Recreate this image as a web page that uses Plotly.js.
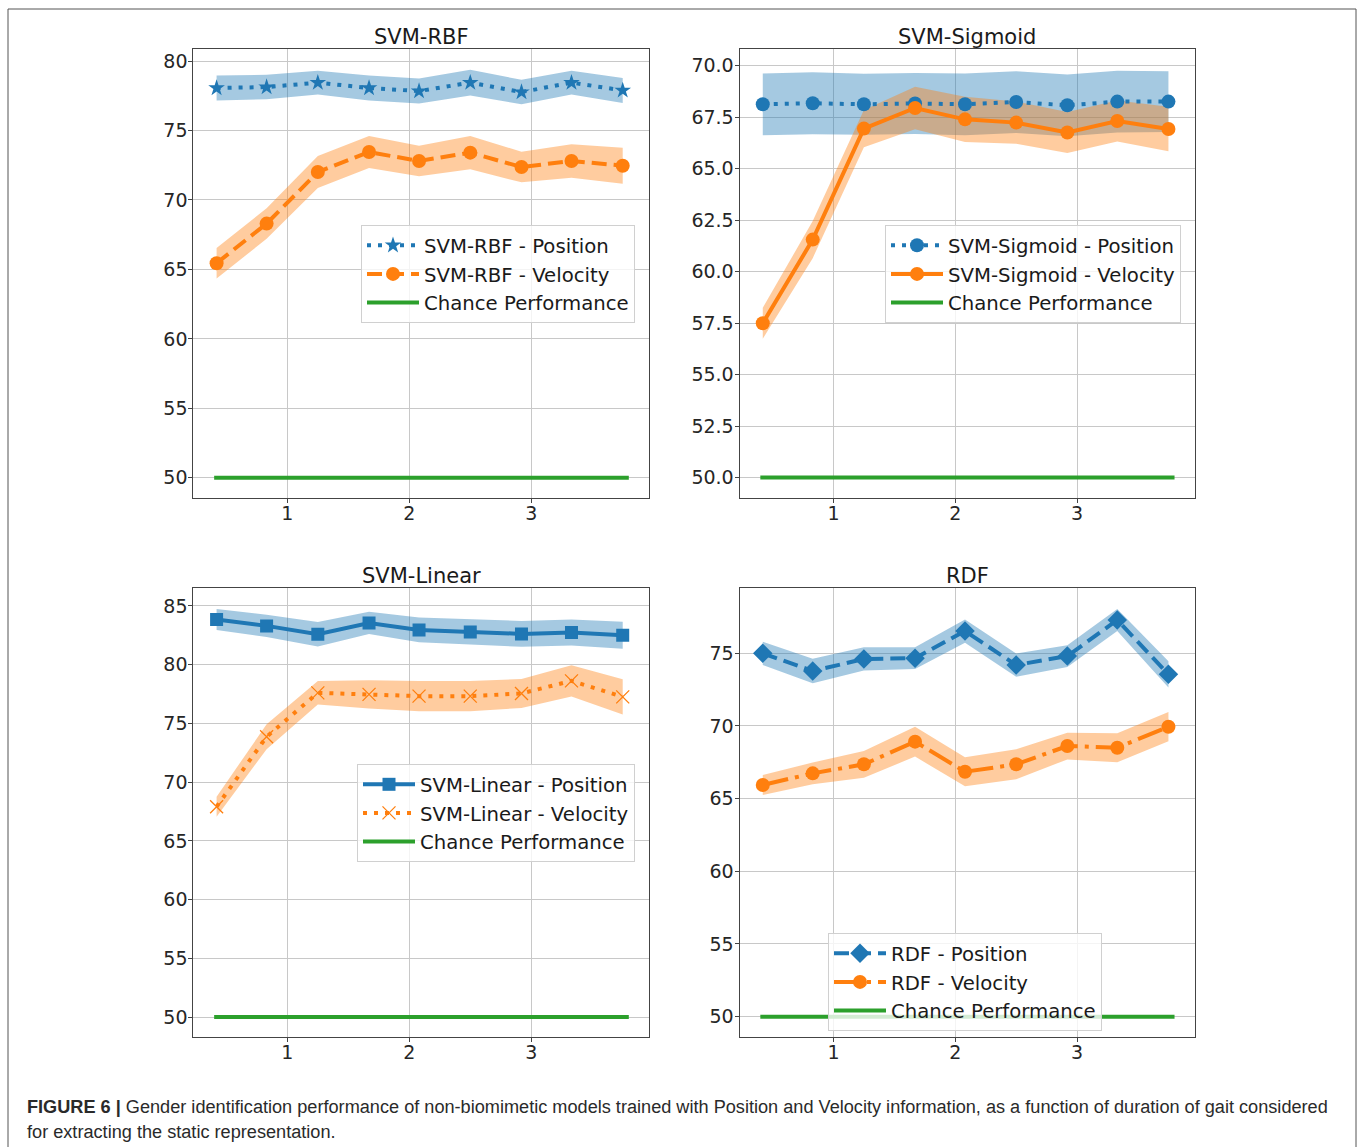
<!DOCTYPE html>
<html>
<head>
<meta charset="utf-8">
<script src="https://cdn.plot.ly/plotly-3.0.1.min.js"></script>
<style>
  html, body { margin: 0; padding: 0; background: #fff; }
  #chart { width: 1358px; height: 1147px; }
</style>
</head>
<body>
<div id="chart"></div>
<script>
// ---- data ----
const durations = [0.42, 0.83, 1.25, 1.67, 2.08, 2.50, 2.92, 3.33, 3.75];
const chanceX = [0.4, 3.8];
const chanceY = [50, 50];

const rbfPos    = [78.06, 78.13, 78.45, 78.06, 77.84, 78.45, 77.77, 78.45, 77.89];
const rbfPosStd = [0.90, 0.88, 0.85, 0.90, 0.90, 0.92, 0.88, 0.85, 0.90];
const rbfVel    = [65.45, 68.30, 72.01, 73.45, 72.81, 73.41, 72.37, 72.81, 72.47];
const rbfVelStd = [1.10, 1.10, 1.15, 1.15, 1.10, 1.20, 1.10, 1.20, 1.30];

const sigPos    = [68.12, 68.17, 68.12, 68.16, 68.12, 68.23, 68.07, 68.25, 68.25];
const sigPosStd = [1.50, 1.50, 1.48, 1.48, 1.50, 1.50, 1.50, 1.50, 1.48];
const sigVel    = [57.49, 61.55, 66.94, 67.94, 67.39, 67.23, 66.75, 67.31, 66.92];
const sigVelStd = [0.75, 0.90, 0.90, 1.03, 1.10, 1.02, 1.00, 1.00, 1.08];

const linPos    = [83.84, 83.30, 82.59, 83.55, 82.96, 82.79, 82.62, 82.74, 82.51];
const linPosStd = [0.90, 0.95, 1.05, 0.95, 1.05, 1.10, 1.10, 1.10, 1.15];
const linVel    = [67.91, 73.86, 77.60, 77.47, 77.32, 77.32, 77.55, 78.62, 77.26];
const linVelStd = [0.85, 1.06, 1.00, 1.20, 1.28, 1.28, 1.23, 1.34, 1.50];

const rdfPos    = [75.00, 73.78, 74.61, 74.66, 76.53, 74.19, 74.81, 77.29, 73.55];
const rdfPosStd = [0.80, 0.85, 0.80, 0.75, 0.80, 0.80, 0.75, 0.75, 0.90];
const rdfVel    = [65.94, 66.74, 67.36, 68.92, 66.85, 67.36, 68.62, 68.50, 69.95];
const rdfVelStd = [0.69, 0.75, 0.92, 1.03, 0.99, 1.03, 0.92, 1.00, 1.01];

const panelTitles = ['SVM-RBF', 'SVM-Sigmoid', 'SVM-Linear', 'RDF'];
const xTicks = [1, 2, 3];

// ---- styles ----
const BLUE = '#1f77b4', ORANGE = '#ff7f0e', GREEN = '#2ca02c';
const BLUE_BAND = 'rgba(31,119,180,0.4)', ORANGE_BAND = 'rgba(255,127,14,0.4)';
const DOT = '4px,7px', DASH = '15px,7px', DASHDOT = '26px,7px,4px,7px';
const FONT = 'DejaVu Sans, sans-serif';

function band(x, m, s, color, xa, ya) {
  const up = m.map((v, i) => v + s[i]);
  const lo = m.map((v, i) => v - s[i]);
  return {
    x: x.concat(x.slice().reverse()),
    y: up.concat(lo.slice().reverse()),
    xaxis: xa, yaxis: ya, type: 'scatter', mode: 'lines',
    fill: 'toself', fillcolor: color, line: {width: 0, color: 'rgba(0,0,0,0)'},
    hoverinfo: 'skip', showlegend: false
  };
}
function series(x, y, name, color, dash, symbol, msize, xa, ya, leg, thin) {
  return {
    x: x, y: y, name: name, xaxis: xa, yaxis: ya, legend: leg,
    type: 'scatter', mode: 'lines+markers',
    line: {color: color, width: 4, dash: dash},
    marker: thin ? {symbol: symbol, size: msize, color: color, line: {color: color, width: 1.3}}
                 : {symbol: symbol, size: msize, color: color, line: {width: 0}}
  };
}
function chance(xa, ya, leg) {
  return {x: chanceX, y: chanceY, name: 'Chance Performance', xaxis: xa, yaxis: ya, legend: leg,
          type: 'scatter', mode: 'lines', line: {color: GREEN, width: 4}};
}

const traces = [
  band(durations, rbfPos, rbfPosStd, BLUE_BAND, 'x', 'y'),
  band(durations, rbfVel, rbfVelStd, ORANGE_BAND, 'x', 'y'),
  series(durations, rbfPos, 'SVM-RBF - Position', BLUE, DOT, 'star', 12.5, 'x', 'y', 'legend'),
  series(durations, rbfVel, 'SVM-RBF - Velocity', ORANGE, DASH, 'circle', 14, 'x', 'y', 'legend'),
  chance('x', 'y', 'legend'),

  band(durations, sigPos, sigPosStd, BLUE_BAND, 'x2', 'y2'),
  band(durations, sigVel, sigVelStd, ORANGE_BAND, 'x2', 'y2'),
  series(durations, sigPos, 'SVM-Sigmoid - Position', BLUE, DOT, 'circle', 14, 'x2', 'y2', 'legend2'),
  series(durations, sigVel, 'SVM-Sigmoid - Velocity', ORANGE, 'solid', 'circle', 14, 'x2', 'y2', 'legend2'),
  chance('x2', 'y2', 'legend2'),

  band(durations, linPos, linPosStd, BLUE_BAND, 'x3', 'y3'),
  band(durations, linVel, linVelStd, ORANGE_BAND, 'x3', 'y3'),
  series(durations, linPos, 'SVM-Linear - Position', BLUE, 'solid', 'square', 13, 'x3', 'y3', 'legend3'),
  series(durations, linVel, 'SVM-Linear - Velocity', ORANGE, DOT, 'x-thin-open', 13, 'x3', 'y3', 'legend3', true),
  chance('x3', 'y3', 'legend3'),

  band(durations, rdfPos, rdfPosStd, BLUE_BAND, 'x4', 'y4'),
  band(durations, rdfVel, rdfVelStd, ORANGE_BAND, 'x4', 'y4'),
  series(durations, rdfPos, 'RDF - Position', BLUE, DASH, 'diamond', 15, 'x4', 'y4', 'legend4'),
  series(durations, rdfVel, 'RDF - Velocity', ORANGE, DASHDOT, 'circle', 14, 'x4', 'y4', 'legend4'),
  chance('x4', 'y4', 'legend4')
];

const W = 1358, H = 1147;
const colL = [193.3 / W, 649.3 / W], colR = [739.5 / W, 1195 / W];
const rowT = [1 - 498.3 / H, 1 - 49.3 / H], rowB = [1 - 1037.3 / H, 1 - 588.3 / H];

function xax(dom, anchor) {
  return {domain: dom, anchor: anchor, range: [0.229, 3.968], tickvals: xTicks,
    showgrid: true, gridcolor: '#c8c8c8', gridwidth: 1, zeroline: false,
    showline: true, linecolor: '#444', linewidth: 1, mirror: true,
    ticks: 'outside', ticklen: 4, tickcolor: '#444', ticklabelstandoff: -6,
    tickfont: {family: FONT, size: 19, color: '#262626'}};
}
function yax(dom, anchor, range, dtick, fmt) {
  return {domain: dom, anchor: anchor, range: range, dtick: dtick, tick0: 50, tickformat: fmt,
    showgrid: true, gridcolor: '#c8c8c8', gridwidth: 1, zeroline: false,
    showline: true, linecolor: '#444', linewidth: 1, mirror: true,
    ticks: 'outside', ticklen: 4, tickcolor: '#444', ticklabelstandoff: -3,
    tickfont: {family: FONT, size: 19, color: '#262626'}};
}
function leg(x, y) {
  return {x: x, y: y, xanchor: 'left', yanchor: 'top', bgcolor: 'rgba(255,255,255,0.8)',
    bordercolor: '#d0d0d0', borderwidth: 1, itemwidth: 52,
    font: {family: FONT, size: 19.7, color: '#1a1a1a'}};
}
function ttl(text, dom, top) {
  return {text: text, x: (dom[0] + dom[1]) / 2, y: top, xref: 'paper', yref: 'paper',
    xanchor: 'center', yanchor: 'bottom', yshift: -2, showarrow: false,
    font: {family: FONT, size: 21, color: '#1a1a1a'}};
}

const layout = {
  width: W, height: H, margin: {l: 0, r: 0, t: 0, b: 0},
  paper_bgcolor: '#fff', plot_bgcolor: '#fff',
  xaxis: xax(colL, 'y'), yaxis: yax(rowT, 'x', [48.52, 80.85], 5),
  xaxis2: xax(colR, 'y2'), yaxis2: yax(rowT, 'x2', [48.99, 70.79], 2.5, '.1f'),
  xaxis3: xax(colL, 'y3'), yaxis3: yax(rowB, 'x3', [48.28, 86.5], 5),
  xaxis4: xax(colR, 'y4'), yaxis4: yax(rowB, 'x4', [48.58, 79.47], 5),
  legend: leg(361 / W, 1 - 225 / H),
  legend2: leg(885 / W, 1 - 225 / H),
  legend3: leg(357 / W, 1 - 764 / H),
  legend4: leg(828 / W, 1 - 933 / H),
  annotations: [
    ttl(panelTitles[0], colL, rowT[1]),
    ttl(panelTitles[1], colR, rowT[1]),
    ttl(panelTitles[2], colL, rowB[1]),
    ttl(panelTitles[3], colR, rowB[1]),
    {text: '<b>FIGURE 6 |</b> Gender identification performance of non-biomimetic models trained with Position and Velocity information, as a function of duration of gait considered',
     x: 25 / W, y: 1 - 1107 / H, xref: 'paper', yref: 'paper', xanchor: 'left', yanchor: 'middle',
     showarrow: false, font: {family: 'Liberation Sans, Arial, sans-serif', size: 18.15, color: '#2a2a2a'}},
    {text: 'for extracting the static representation.',
     x: 25 / W, y: 1 - 1132 / H, xref: 'paper', yref: 'paper', xanchor: 'left', yanchor: 'middle',
     showarrow: false, font: {family: 'Liberation Sans, Arial, sans-serif', size: 18.15, color: '#2a2a2a'}}
  ],
  shapes: [
    {type: 'rect', xref: 'paper', yref: 'paper', x0: 8 / W, x1: 1356 / W, y0: -0.02, y1: 1 - 9 / H,
     line: {color: '#555', width: 1}, fillcolor: 'rgba(0,0,0,0)', layer: 'below'}
  ],
  showlegend: true
};

Plotly.newPlot('chart', traces, layout, {staticPlot: true, displayModeBar: false});
</script>
</body>
</html>
